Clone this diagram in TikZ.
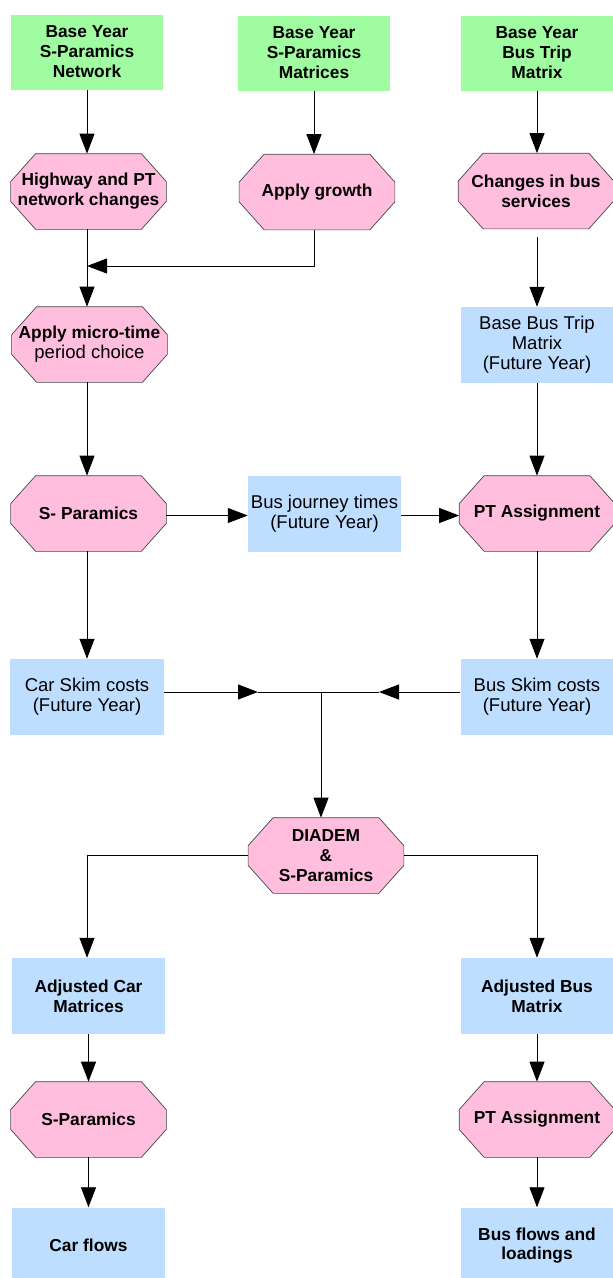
\documentclass[tikz,border=0pt]{standalone}
\usepackage{fontspec}
\setmainfont{Liberation Sans}
\usetikzlibrary{arrows.meta}
\definecolor{gruen}{RGB}{160,252,160}
\definecolor{rosa}{RGB}{255,190,222}
\definecolor{hellblau}{RGB}{190,222,255}
\definecolor{rand}{RGB}{70,70,70}

% Achteck mit festen Fasen
\makeatletter
\pgfdeclareshape{achteck}{
  \inheritsavedanchors[from=rectangle]
  \inheritanchorborder[from=rectangle]
  \inheritanchor[from=rectangle]{center}
  \inheritanchor[from=rectangle]{north}
  \inheritanchor[from=rectangle]{south}
  \inheritanchor[from=rectangle]{east}
  \inheritanchor[from=rectangle]{west}
  \inheritanchor[from=rectangle]{mid}
  \inheritanchor[from=rectangle]{base}
  \backgroundpath{
    \southwest \pgf@xa=\pgf@x \pgf@ya=\pgf@y
    \northeast \pgf@xb=\pgf@x \pgf@yb=\pgf@y
    \pgfpathmoveto{\pgfpointadd{\pgfqpoint{\pgf@xa}{\pgf@yb}}{\pgfpoint{0.75cm}{0pt}}}
    \pgfpathlineto{\pgfpointadd{\pgfqpoint{\pgf@xb}{\pgf@yb}}{\pgfpoint{-0.75cm}{0pt}}}
    \pgfpathlineto{\pgfpointadd{\pgfqpoint{\pgf@xb}{\pgf@yb}}{\pgfpoint{0pt}{-0.84cm}}}
    \pgfpathlineto{\pgfpointadd{\pgfqpoint{\pgf@xb}{\pgf@ya}}{\pgfpoint{0pt}{0.84cm}}}
    \pgfpathlineto{\pgfpointadd{\pgfqpoint{\pgf@xb}{\pgf@ya}}{\pgfpoint{-0.75cm}{0pt}}}
    \pgfpathlineto{\pgfpointadd{\pgfqpoint{\pgf@xa}{\pgf@ya}}{\pgfpoint{0.75cm}{0pt}}}
    \pgfpathlineto{\pgfpointadd{\pgfqpoint{\pgf@xa}{\pgf@ya}}{\pgfpoint{0pt}{0.84cm}}}
    \pgfpathlineto{\pgfpointadd{\pgfqpoint{\pgf@xa}{\pgf@yb}}{\pgfpoint{0pt}{-0.84cm}}}
    \pgfpathclose
  }
}
\makeatother

\begin{document}
\begin{tikzpicture}[x=0.03cm, y=-0.03cm,
        every node/.style={align=center, inner sep=0pt, font=\fontsize{15.8}{17}\selectfont},
        fett/.style={font=\fontsize{14.8}{17}\selectfont\bfseries},
        eingabe/.style={fett, fill=gruen, minimum width=4.56cm, minimum height=2.25cm},
        schritt/.style={fett, achteck, draw=rand, line width=0.6pt, fill=rosa, minimum width=4.65cm, minimum height=2.25cm},
        ergebnis/.style={fill=hellblau, minimum width=4.59cm, minimum height=2.28cm},
        pfeil/.style={-{Triangle[length=0.6cm, width=0.45cm]}, line width=0.8pt}]
        \useasboundingbox (0,0) rectangle (613,1278);

        % Spalten
        \coordinate (sl) at (87, 0);
        \coordinate (sm) at (314, 0);
        \coordinate (sr) at (537, 0);

        % Eingaben
        \node[eingabe] (by1) at (87, 52) {Base Year\\S-Paramics\\Network};
        \node[eingabe] (by2) at (314, 53) {Base Year\\S-Paramics\\Matrices};
        \node[eingabe] (by3) at (537, 53) {Base Year\\Bus Trip\\Matrix};

        % Aenderungen
        \node[schritt] (netz) at (88.5, 191.5) {Highway and PT\\network changes};
        \node[schritt] (wachstum) at (317, 192) {Apply growth};
        \node[schritt] (busang) at (536, 191) {Changes in bus\\services};

        \node[schritt] (micro) at (89.5, 344.5) {Apply micro-time\\{\fontsize{15.8}{17}\selectfont\mdseries period choice}};
        \node[ergebnis] (bbtm) at (537, 345) {Base Bus Trip\\Matrix\\(Future Year)};

        % Umlegung
        \node[schritt] (spar) at (88.5, 513.5) {S- Paramics};
        \node[ergebnis] (fahrzeit) at (324.5, 514) {Bus journey times\\(Future Year)};
        \node[schritt] (pta) at (537, 513.5) {PT Assignment};

        \node[ergebnis] (carskim) at (87, 697) {Car Skim costs\\(Future Year)};
        \node[ergebnis] (busskim) at (537, 697) {Bus Skim costs\\(Future Year)};

        % Nachfragemodell
        \node[schritt] (diadem) at (326, 855.5) {DIADEM\\\&\\S-Paramics};

        \node[ergebnis, fett] (adjcar) at (88.5, 996) {Adjusted Car\\Matrices};
        \node[ergebnis, fett] (adjbus) at (537, 996) {Adjusted Bus\\Matrix};

        \node[schritt] (spar2) at (88.5, 1119.5) {S-Paramics};
        \node[schritt] (pta2) at (537, 1119.5) {PT Assignment};

        \node[ergebnis, fett] (carflow) at (88.5, 1245.5) {Car flows};
        \node[ergebnis, fett] (busflow) at (537, 1245.5) {Bus flows and\\loadings};

        % Hilfspunkte
        \coordinate (m1) at (87, 266);
        \coordinate (m2) at (321, 692);
        \coordinate (pl) at (258, 692);
        \coordinate (pr) at (379, 692);

        % Verbindungen
        \draw[pfeil] (by1.south -| sl) -- (netz.north -| sl);
        \draw[pfeil] (by2.south -| sm) -- (wachstum.north -| sm);
        \draw[pfeil] (by3.south -| sr) -- (busang.north -| sr);
        \draw[pfeil] (wachstum.south -| sm) |- (m1);
        \draw[pfeil] (netz.south -| sl) -- (micro.north -| sl);
        \draw[pfeil, shorten <=0.24cm] (busang.south -| sr) -- (bbtm.north -| sr);
        \draw[pfeil] (micro.south -| sl) -- (spar.north -| sl);
        \draw[pfeil] (bbtm.south -| sr) -- (pta.north -| sr);
        \draw[pfeil] (spar.east |- 0,515.5) -- (fahrzeit.west |- 0,515.5);
        \draw[pfeil] (fahrzeit.east |- 0,515.5) -- (pta.west |- 0,515.5);
        \draw[pfeil] (spar.south -| sl) -- (carskim.north -| sl);
        \draw[pfeil] (pta.south -| sr) -- (busskim.north -| sr);
        \draw[pfeil] (carskim.east |- m2) -- (pl);
        \draw[line width=0.8pt] (pl) -- (m2);
        \draw[pfeil] (busskim.west |- m2) -- (pr);
        \draw[line width=0.8pt] (pr) -- (m2);
        \draw[pfeil] (m2) -- (m2 |- diadem.north);
        \draw[pfeil] (diadem.west) -| (adjcar.north -| sl);
        \draw[pfeil] (diadem.east) -| (adjbus.north -| sr);
        \draw[pfeil] (adjcar) -- (spar2);
        \draw[pfeil] (adjbus) -- (pta2);
        \draw[pfeil] (spar2) -- (carflow);
        \draw[pfeil] (pta2) -- (busflow);

    \end{tikzpicture}
\end{document}
